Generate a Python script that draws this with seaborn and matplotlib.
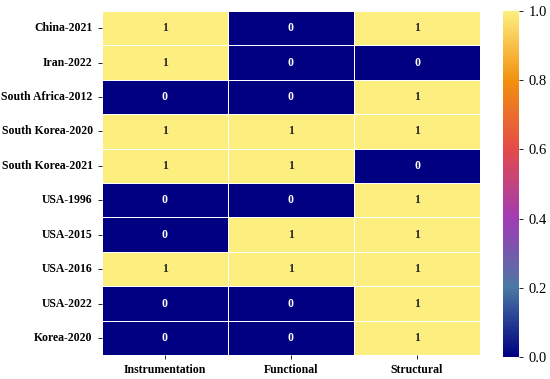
import numpy as np
import pandas as pd
import matplotlib
matplotlib.use("Agg")
import matplotlib.pyplot as plt
import seaborn as sns
from matplotlib.colors import LinearSegmentedColormap

cases = ["China-2021", "Iran-2022", "South Africa-2012", "South Korea-2020",
         "South Korea-2021", "USA-1996", "USA-2015", "USA-2016", "USA-2022",
         "Korea-2020"]
categories = ["Instrumentation", "Functional", "Structural"]
instrumentation = [1, 1, 0, 1, 1, 0, 0, 1, 0, 0]
functional = [0, 0, 0, 1, 1, 0, 1, 1, 0, 0]
structural = [1, 0, 1, 1, 0, 1, 1, 1, 1, 1]

df = pd.DataFrame({"Instrumentation": instrumentation,
                   "Functional": functional,
                   "Structural": structural}, index=cases)[categories]

cmap = LinearSegmentedColormap.from_list(
    "navy_yellow",
    [(0.0, "#000080"), (0.2, "#4a78a4"), (0.4, "#a03cb4"),
     (0.6, "#e44a4a"), (0.8, "#f2900e"), (1.0, "#fdee80")])

plt.rcParams["font.family"] = ["Liberation Serif", "DejaVu Serif"]

fig = plt.figure(figsize=(5.5, 3.79), dpi=100)
ax = fig.add_axes([0.185, 0.063, 0.688, 0.908])
cax = fig.add_axes([0.915, 0.058, 0.029, 0.913])

sns.heatmap(df, ax=ax, cbar_ax=cax, cmap=cmap, vmin=0, vmax=1,
            annot=True, fmt="d", linewidths=0.5, linecolor="white",
            annot_kws={"fontsize": 8.5, "fontweight": "bold"})

ax.tick_params(axis="both", length=3, width=0.6, labelsize=8.5)
ax.set_yticklabels(cases, rotation=0)
ax.set_xticklabels(categories, rotation=0)
for lab in ax.get_xticklabels() + ax.get_yticklabels():
    lab.set_fontweight("bold")
cax.tick_params(labelsize=10.5, length=3, width=0.6)

fig.savefig("out.png", dpi=100)
